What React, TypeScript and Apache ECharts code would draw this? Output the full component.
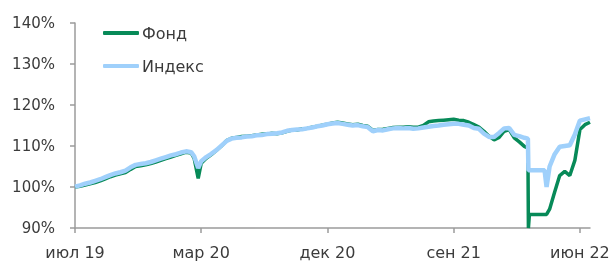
import React, { useEffect, useRef } from "react";
import * as echarts from "echarts";

// x-axis tick positions (trading-period index) and their labels
const tickPositions = [0, 25, 50, 75, 100];
const tickLabels = ["июл 19", "мар 20", "дек 20", "сен 21", "июн 22"];

// y-axis range
const yMin = 90;
const yMax = 140;
const yStep = 10;

// time positions
const t = [
  0, 1, 2, 3, 4, 5, 6, 7, 8, 9, 10, 11, 12, 13, 14, 15, 16, 17, 18, 19, 20, 21, 22, 23,
  23.6, 24.4,
  25, 26, 27, 28, 29, 30, 31, 32, 33, 34, 35, 36, 37, 38, 39, 40, 41, 42, 43, 44, 45, 46, 47, 48, 49,
  50, 51, 52, 53, 54, 55, 56, 57, 58, 59, 60, 61, 62, 63, 64, 65, 66, 67, 68, 69, 70, 71, 72, 73, 74,
  75, 76, 77, 78, 79, 80, 81, 82, 83, 84, 85, 86, 87, 88, 89,
  89.7, 89.8, 90, 91, 92, 93, 93.4, 94, 95, 96, 97, 98, 99, 100, 101, 102,
];

// Фонд (fund), %
const fund = [
  100.0, 100.2, 100.5, 100.8, 101.1, 101.5, 102.0, 102.5, 102.9, 103.2, 103.5, 104.3, 105.0, 105.2, 105.4, 105.7, 106.1, 106.5, 106.9, 107.3, 107.7, 108.1, 108.5, 108.3,
  107.0, 102.1,
  105.8, 107.0, 107.9, 108.9, 110.0, 111.3, 111.9, 112.1, 112.3, 112.4, 112.5, 112.7, 112.9, 112.9, 113.1, 113.0, 113.2, 113.6, 113.9, 113.9, 114.2, 114.3, 114.6, 114.8, 115.1,
  115.3, 115.6, 115.8, 115.6, 115.4, 115.2, 115.3, 115.0, 114.8, 113.8, 114.0, 114.1, 114.3, 114.5, 114.6, 114.6, 114.7, 114.6, 114.6, 115.0, 115.9, 116.1, 116.2, 116.3, 116.4,
  116.5, 116.3, 116.2, 115.8, 115.2, 114.6, 113.6, 112.4, 111.5, 112.1, 113.6, 114.0, 112.0, 111.0, 109.9,
  109.5, 90.0, 93.3, 93.3, 93.3, 93.3, 93.3, 94.6, 98.8, 102.8, 103.8, 102.8, 106.5, 114.0, 115.2, 115.8,
];

// Индекс (index), %
const indexValues = [
  100.1, 100.4, 100.8, 101.1, 101.5, 101.9, 102.4, 102.9, 103.3, 103.6, 104.0, 104.8, 105.4, 105.6, 105.8, 106.1, 106.5, 106.9, 107.3, 107.7, 108.0, 108.4, 108.7, 108.5,
  107.5, 104.6,
  106.3, 107.3, 108.1, 109.0, 110.1, 111.2, 111.8, 112.0, 112.1, 112.3, 112.4, 112.6, 112.7, 112.9, 113.0, 113.1, 113.3, 113.7, 113.9, 114.0, 114.1, 114.3, 114.5, 114.8, 115.0,
  115.3, 115.5, 115.6, 115.4, 115.2, 115.0, 115.1, 114.8, 114.6, 113.6, 113.9, 113.8, 114.1, 114.3, 114.4, 114.3, 114.4, 114.2, 114.3, 114.5, 114.7, 114.9, 115.0, 115.2, 115.3,
  115.4, 115.4, 115.2, 115.0, 114.4, 114.2, 113.0, 112.2, 112.2, 113.2, 114.3, 114.4, 112.7, 112.4, 112.0,
  111.8, 104.1, 104.1, 104.1, 104.1, 104.1, 100.0, 105.0, 108.0, 109.8, 110.0, 110.2, 112.8, 116.2, 116.5, 116.8,
];

const seriesNames = ["Фонд", "Индекс"];
const FONT = "DejaVu Sans";
const TEXT = "#3b3b3b";
const AXIS = "#9b9b9b";

export default function App() {
  const ref = useRef<HTMLDivElement>(null);
  useEffect(() => {
    if (!ref.current) return;
    const chart = echarts.init(ref.current, undefined, { renderer: "svg" });
    chart.setOption({
      animation: false,
      grid: { left: 75, right: 23, top: 23, bottom: 33, outerBoundsMode: "none" },
      legend: {
        show: true,
        orient: "vertical",
        left: 98,
        top: 20,
        itemWidth: 36,
        itemHeight: 4,
        itemGap: 17,
        icon: "roundRect",
        textStyle: { fontFamily: FONT, fontSize: 16, color: TEXT, padding: [0, 0, 0, -2] },
        data: seriesNames,
      },
      xAxis: {
        type: "value",
        min: 0,
        max: 102,
        interval: 25,
        splitLine: { show: false },
        axisLine: { show: true, lineStyle: { color: AXIS, width: 1.5 } },
        axisTick: { show: true, length: 5, customValues: tickPositions, lineStyle: { color: AXIS, width: 1.5 } },
        axisLabel: {
          customValues: tickPositions,
          margin: 16,
          fontFamily: FONT,
          fontSize: 16,
          color: TEXT,
          formatter: (v: number) => {
            const k = tickPositions.indexOf(v);
            return k >= 0 ? tickLabels[k] : "";
          },
        },
      },
      yAxis: {
        type: "value",
        min: yMin,
        max: yMax,
        interval: yStep,
        splitLine: { show: false },
        axisLine: { show: true, lineStyle: { color: AXIS, width: 1.5 } },
        axisTick: { show: true, length: 5, lineStyle: { color: AXIS, width: 1.5 } },
        axisLabel: {
          margin: 20,
          fontFamily: FONT,
          fontSize: 15,
          color: TEXT,
          formatter: (v: number) => `${v}%`,
        },
      },
      series: [
        {
          name: seriesNames[0],
          type: "line",
          symbol: "none",
          data: t.map((x, i) => [x, fund[i]]),
          lineStyle: { color: "#078a58", width: 3.5 },
          itemStyle: { color: "#078a58" },
        },
        {
          name: seriesNames[1],
          type: "line",
          symbol: "none",
          data: t.map((x, i) => [x, indexValues[i]]),
          lineStyle: { color: "#9fd0fb", width: 4.5 },
          itemStyle: { color: "#9fd0fb" },
        },
      ],
    });
    return () => chart.dispose();
  }, []);
  return <div ref={ref} style={{ position: "fixed", left: 0, top: 0, width: 613, height: 261 }} />;
}
